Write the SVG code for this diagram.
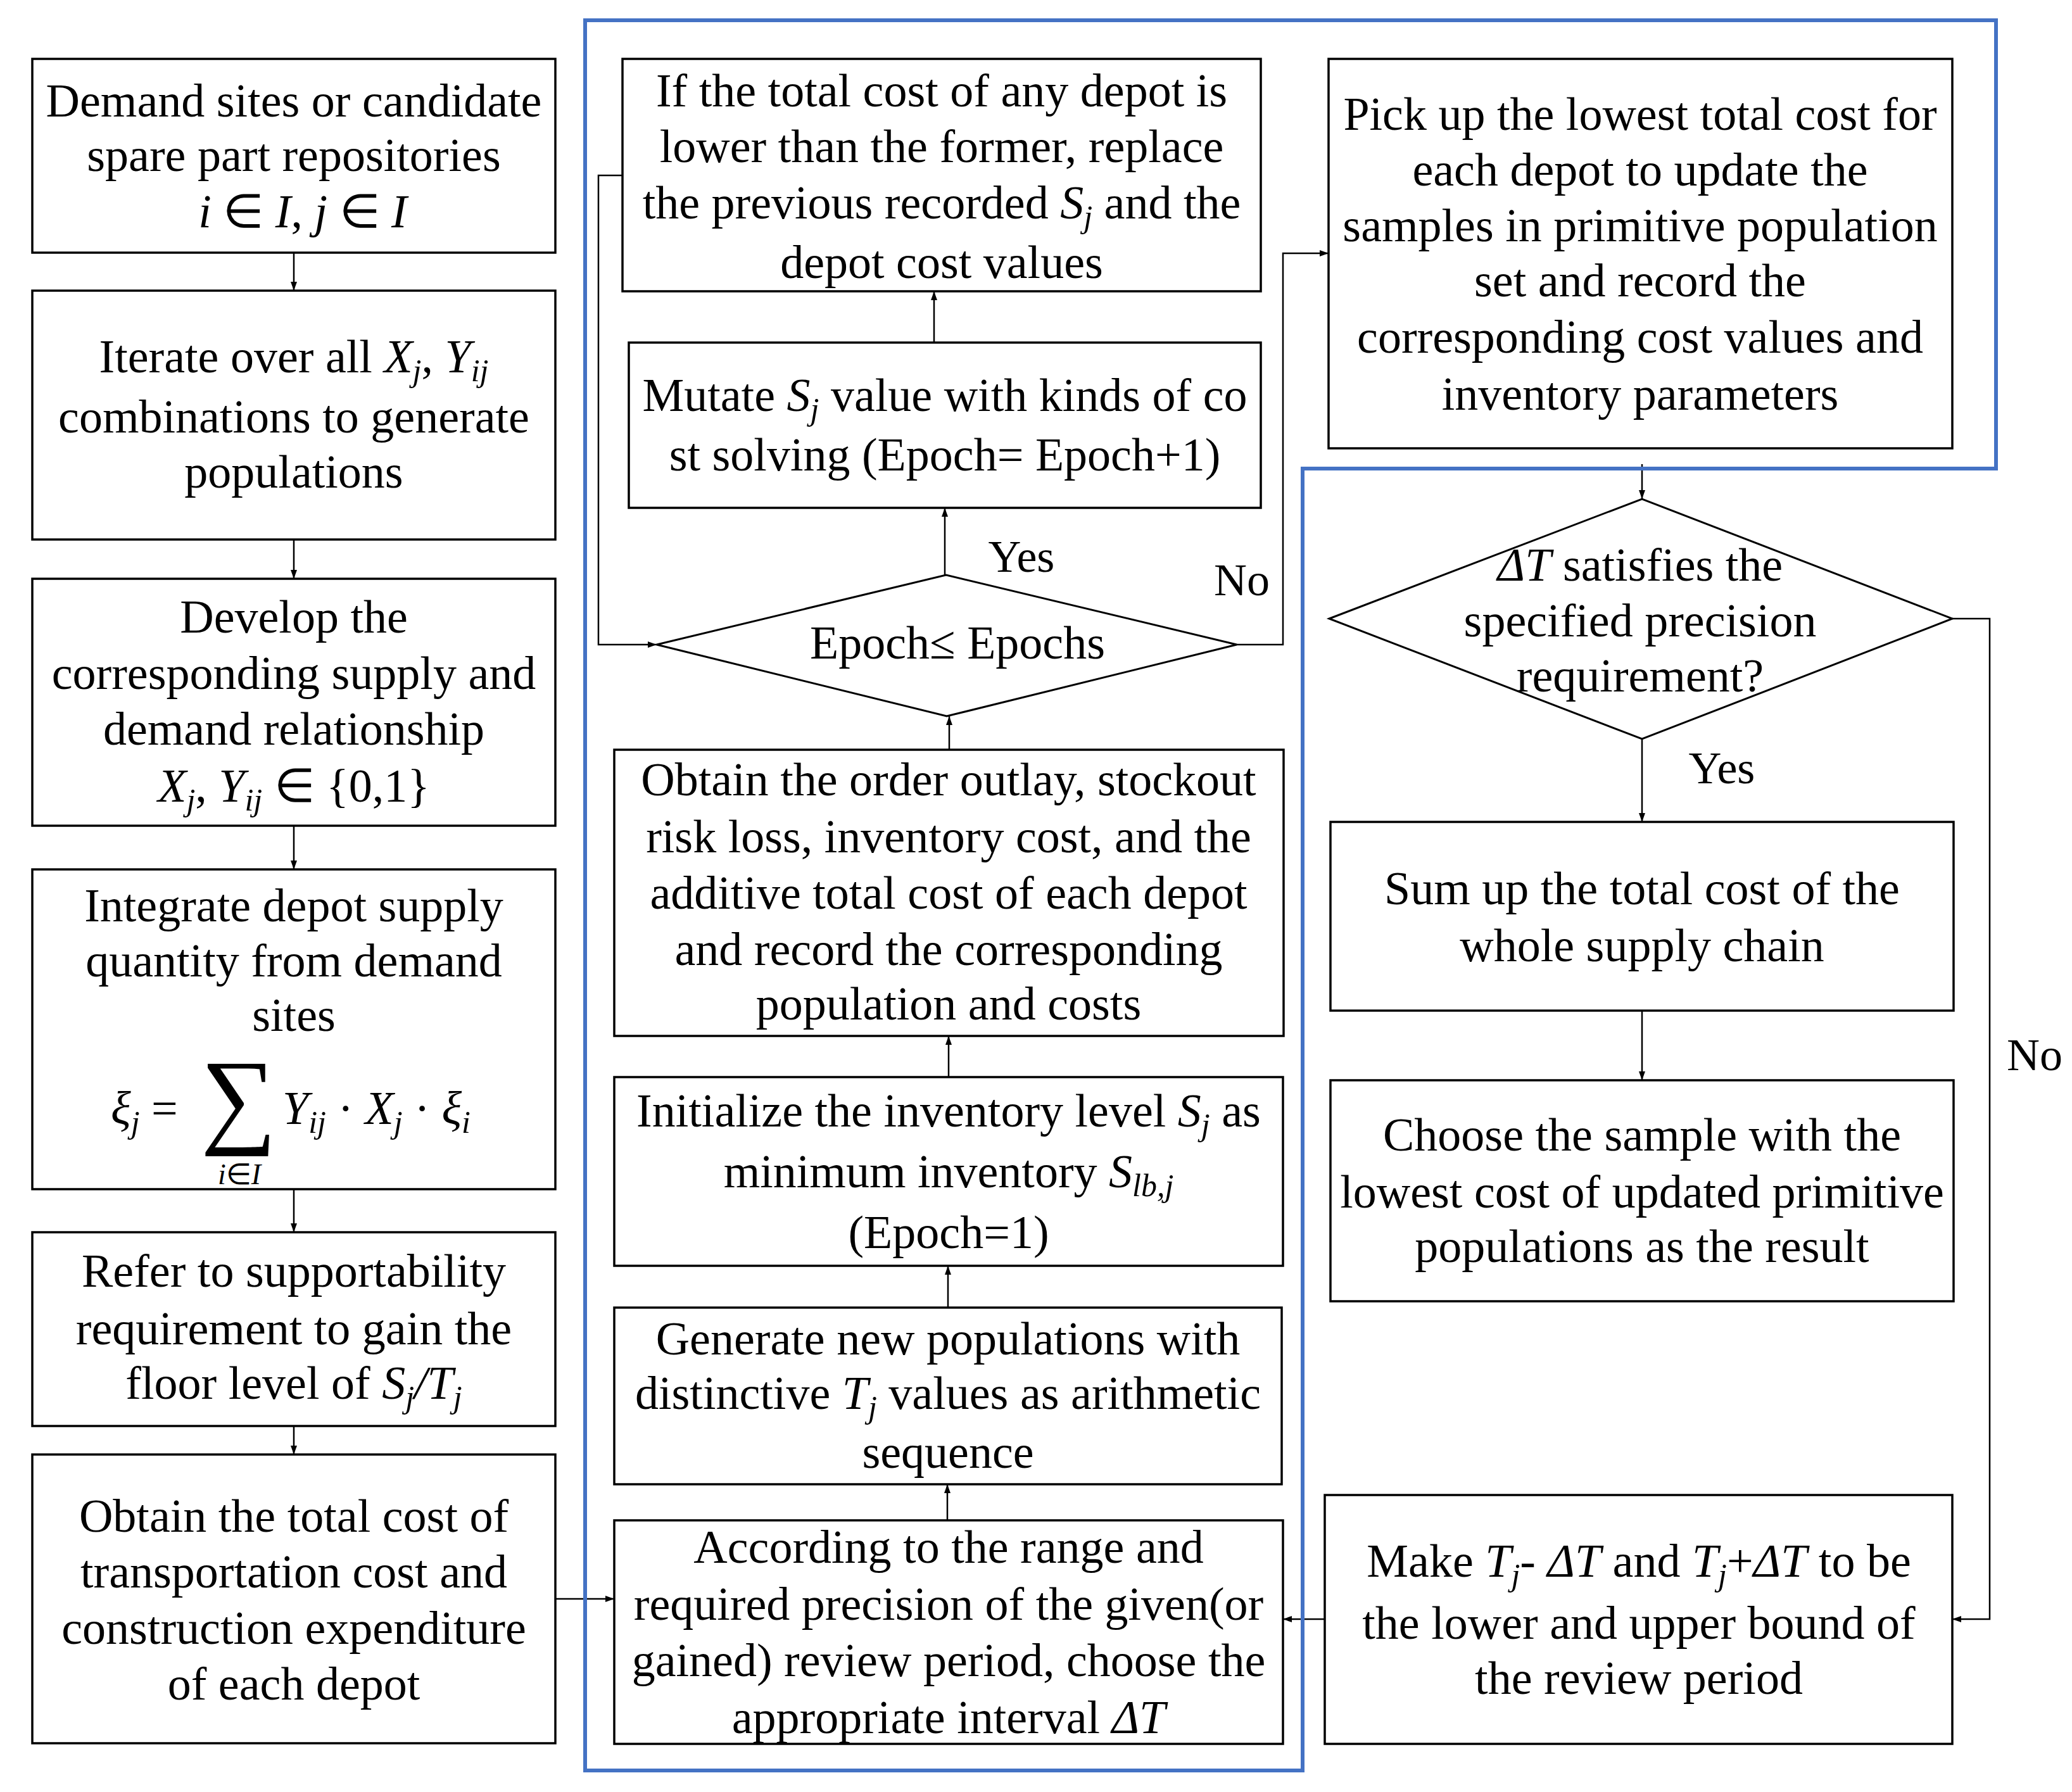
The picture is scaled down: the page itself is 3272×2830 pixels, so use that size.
<svg xmlns="http://www.w3.org/2000/svg" width="3272" height="2830" viewBox="0 0 3272 2830">
<defs>
<marker id="ah" viewBox="0 0 14 10" refX="14" refY="5" markerWidth="14" markerHeight="10" markerUnits="userSpaceOnUse" orient="auto">
<path d="M0,0 L14,5 L0,10 Z" fill="#000"/>
</marker>
<style>
.box{fill:#fff;stroke:#000;stroke-width:3.5}
.dia{fill:#fff;stroke:#000;stroke-width:3}
.c{fill:none;stroke:#000;stroke-width:2.5}
.a{marker-end:url(#ah)}
.blue{fill:none;stroke:#4472C4;stroke-width:6}
.t{font-family:"Liberation Serif","Times New Roman",serif;font-size:74px;fill:#000;text-anchor:middle}
.l{font-family:"Liberation Serif","Times New Roman",serif;font-size:72px;fill:#000;text-anchor:middle}
.i{font-style:italic}
.s{font-style:italic;font-size:50px}
</style>
</defs>
<rect width="3272" height="2830" fill="#fff"/>

<g id="connectors">
<path class="c a" d="M464,399 V459"/>
<path class="c a" d="M464,852 V914"/>
<path class="c a" d="M464,1304 V1373"/>
<path class="c a" d="M464,1878 V1946"/>
<path class="c a" d="M464,2252 V2297"/>
<path class="c a" d="M877,2525 H970"/>
<path class="c a" d="M1496,2401 V2344"/>
<path class="c a" d="M1497,2065 V1999"/>
<path class="c a" d="M1498,1701 V1636"/>
<path class="c a" d="M1499,1184 V1131"/>
<path class="c a" d="M1492,908 V802"/>
<path class="c a" d="M1475,541 V460"/>
<path class="c a" d="M983,277 H945 V1018 H1037"/>
<path class="c a" d="M1953,1018 H2026 V400 H2098"/>
<path class="c a" d="M2593,733 V788"/>
<path class="c a" d="M2593,1167 V1298"/>
<path class="c a" d="M2593,1596 V1706"/>
<path class="c a" d="M3083,977 H3142 V2557 H3083"/>
<path class="c a" d="M2092,2557 H2026"/>
</g>

<g id="outline">
<path class="blue" d="M924,32 H3152 V740 H2057 V2796 H924 Z"/>
</g>

<g id="n1">
<rect class="box" x="51" y="93" width="826" height="306"/>
<text class="t" x="464" y="184">Demand sites or candidate</text>
<text class="t" x="464" y="270">spare part repositories</text>
<text class="t" x="478" y="359"><tspan class="i">i</tspan> ∈ <tspan class="i">I</tspan>, <tspan class="i">j</tspan> ∈ <tspan class="i">I</tspan></text>
</g>

<g id="n2">
<rect class="box" x="51" y="459" width="826" height="393"/>
<text class="t" x="464" y="588">Iterate over all <tspan class="i">X</tspan><tspan class="s" dy="14">j</tspan><tspan dy="-14">, </tspan><tspan class="i">Y</tspan><tspan class="s" dy="14">ij</tspan></text>
<text class="t" x="464" y="683">combinations to generate</text>
<text class="t" x="464" y="770">populations</text>
</g>

<g id="n3">
<rect class="box" x="51" y="914" width="826" height="390"/>
<text class="t" x="464" y="999">Develop the</text>
<text class="t" x="464" y="1088">corresponding supply and</text>
<text class="t" x="464" y="1176">demand relationship</text>
<text class="t" x="464" y="1266"><tspan class="i">X</tspan><tspan class="s" dy="14">j</tspan><tspan dy="-14">, </tspan><tspan class="i">Y</tspan><tspan class="s" dy="14">ij</tspan><tspan dy="-14"> ∈ {0,1}</tspan></text>
</g>

<g id="n4">
<rect class="box" x="51" y="1373" width="826" height="505"/>
<text class="t" x="464" y="1455">Integrate depot supply</text>
<text class="t" x="464" y="1542">quantity from demand</text>
<text class="t" x="464" y="1628">sites</text>
<text class="t" x="175" y="1775" style="text-anchor:start"><tspan class="i">ξ</tspan><tspan class="s" dy="14">j</tspan><tspan dy="-14"> =</tspan></text>
<text class="t" x="377" y="1790" style="font-size:168px">∑</text>
<text class="t" x="446" y="1775" style="text-anchor:start"><tspan class="i">Y</tspan><tspan class="s" dy="14">ij</tspan><tspan dy="-14"> · </tspan><tspan class="i">X</tspan><tspan class="s" dy="14">j</tspan><tspan dy="-14"> · </tspan><tspan class="i">ξ</tspan><tspan class="s" dy="14">i</tspan></text>
<text class="t" x="378" y="1870" style="font-size:46px"><tspan class="i">i</tspan>∈<tspan class="i">I</tspan></text>
</g>

<g id="n5">
<rect class="box" x="51" y="1946" width="826" height="306"/>
<text class="t" x="464" y="2032">Refer to supportability</text>
<text class="t" x="464" y="2123">requirement to gain the</text>
<text class="t" x="464" y="2209">floor level of <tspan class="i">S</tspan><tspan class="s" dy="14">j</tspan><tspan class="i" dy="-14">/T</tspan><tspan class="s" dy="14">j</tspan></text>
</g>

<g id="n6">
<rect class="box" x="51" y="2297" width="826" height="456"/>
<text class="t" x="464" y="2419">Obtain the total cost of</text>
<text class="t" x="464" y="2507">transportation cost and</text>
<text class="t" x="464" y="2596">construction expenditure</text>
<text class="t" x="464" y="2684">of each depot</text>
</g>

<g id="m1">
<rect class="box" x="983" y="93" width="1008" height="367"/>
<text class="t" x="1487" y="168">If the total cost of any depot is</text>
<text class="t" x="1487" y="256">lower than the former, replace</text>
<text class="t" x="1487" y="345">the previous recorded <tspan class="i">S</tspan><tspan class="s" dy="14">j</tspan><tspan dy="-14"> and the</tspan></text>
<text class="t" x="1487" y="439">depot cost values</text>
</g>

<g id="m2">
<rect class="box" x="993" y="541" width="998" height="261"/>
<text class="t" x="1492" y="649">Mutate <tspan class="i">S</tspan><tspan class="s" dy="14">j</tspan><tspan dy="-14"> value with kinds of co</tspan></text>
<text class="t" x="1492" y="743">st solving (Epoch= Epoch+1)</text>
</g>

<g id="d1">
<polygon class="dia" points="1037,1018 1494,908 1953,1018 1495,1131"/>
<text class="t" x="1512" y="1040">Epoch≤ Epochs</text>
<text class="l" x="1613" y="903">Yes</text>
<text class="l" x="1961" y="940">No</text>
</g>

<g id="m3">
<rect class="box" x="970" y="1184" width="1057" height="452"/>
<text class="t" x="1498" y="1256">Obtain the order outlay, stockout</text>
<text class="t" x="1498" y="1346">risk loss, inventory cost, and the</text>
<text class="t" x="1498" y="1435">additive total cost of each depot</text>
<text class="t" x="1498" y="1524">and record the corresponding</text>
<text class="t" x="1498" y="1610">population and costs</text>
</g>

<g id="m4">
<rect class="box" x="970" y="1701" width="1056" height="298"/>
<text class="t" x="1498" y="1779">Initialize the inventory level <tspan class="i">S</tspan><tspan class="s" dy="14">j</tspan><tspan dy="-14"> as</tspan></text>
<text class="t" x="1498" y="1875">minimum inventory <tspan class="i">S</tspan><tspan class="s" dy="14">lb,j</tspan></text>
<text class="t" x="1498" y="1971">(Epoch=1)</text>
</g>

<g id="m5">
<rect class="box" x="970" y="2065" width="1054" height="279"/>
<text class="t" x="1497" y="2139">Generate new populations with</text>
<text class="t" x="1497" y="2225">distinctive <tspan class="i">T</tspan><tspan class="s" dy="14">j</tspan><tspan dy="-14"> values as arithmetic</tspan></text>
<text class="t" x="1497" y="2318">sequence</text>
</g>

<g id="m6">
<rect class="box" x="970" y="2401" width="1056" height="353"/>
<text class="t" x="1498" y="2468">According to the range and</text>
<text class="t" x="1498" y="2558">required precision of the given(or</text>
<text class="t" x="1498" y="2647">gained) review period, choose the</text>
<text class="t" x="1498" y="2737">appropriate interval  <tspan class="i">ΔT</tspan></text>
</g>

<g id="r1">
<rect class="box" x="2098" y="93" width="985" height="615"/>
<text class="t" x="2590" y="205">Pick up the lowest total cost for</text>
<text class="t" x="2590" y="293">each depot to update the</text>
<text class="t" x="2590" y="381">samples in primitive population</text>
<text class="t" x="2590" y="468">set and record the</text>
<text class="t" x="2590" y="557">corresponding cost values and</text>
<text class="t" x="2590" y="647">inventory parameters</text>
</g>

<g id="d2">
<polygon class="dia" points="2099,977 2593,788 3083,977 2593,1167"/>
<text class="t" x="2590" y="917"><tspan class="i">ΔT</tspan> satisfies the</text>
<text class="t" x="2590" y="1005">specified precision</text>
<text class="t" x="2590" y="1092">requirement?</text>
<text class="l" x="2719" y="1237">Yes</text>
<text class="l" x="3213" y="1690">No</text>
</g>

<g id="r2">
<rect class="box" x="2101" y="1298" width="984" height="298"/>
<text class="t" x="2593" y="1428">Sum up the total cost of the</text>
<text class="t" x="2593" y="1518">whole supply chain</text>
</g>

<g id="r3">
<rect class="box" x="2101" y="1706" width="984" height="349"/>
<text class="t" x="2593" y="1817">Choose the sample with the</text>
<text class="t" x="2593" y="1907">lowest cost of updated primitive</text>
<text class="t" x="2593" y="1993">populations as the result</text>
</g>

<g id="r5">
<rect class="box" x="2092" y="2361" width="991" height="393"/>
<text class="t" x="2588" y="2490">Make <tspan class="i">T</tspan><tspan class="s" dy="14">j</tspan><tspan dy="-14">- </tspan><tspan class="i">ΔT</tspan> and <tspan class="i">T</tspan><tspan class="s" dy="14">j</tspan><tspan dy="-14">+</tspan><tspan class="i">ΔT</tspan> to be</text>
<text class="t" x="2588" y="2588">the lower and upper bound of</text>
<text class="t" x="2588" y="2675">the review period</text>
</g>
</svg>
